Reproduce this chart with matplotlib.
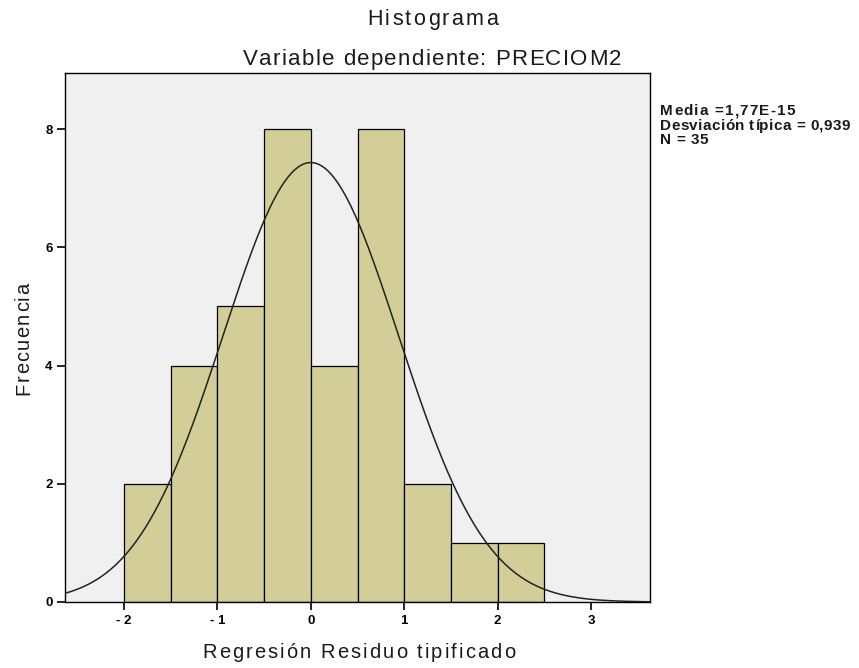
import matplotlib
matplotlib.use("Agg")
import matplotlib.pyplot as plt
from matplotlib.font_manager import FontProperties, findfont
from matplotlib.ft2font import FT2Font
import numpy as np

plt.rcParams['font.family'] = ['Liberation Sans', 'DejaVu Sans']

# datos del histograma (residuos tipificados)
bordes = [-2.0, -1.5, -1.0, -0.5, 0.0, 0.5, 1.0, 1.5, 2.0, 2.5]
frecuencias = [2, 4, 5, 8, 4, 8, 2, 1, 1]
media = 1.77e-15
desviacion = 0.939
n = 35
xticks = [-2, -1, 0, 1, 2, 3]
xtick_labels = ["- 2", "- 1", "0", "1", "2", "3"]
yticks = [0, 2, 4, 6, 8]

W, H = 859, 668
fig = plt.figure(figsize=(W/100, H/100), dpi=100)
ax = fig.add_axes([65/W, 66/H, 585/W, 529/H])
ax.set_facecolor('#F0F0F0')

anchos = np.diff(bordes)
ax.bar(bordes[:-1], frecuencias, width=anchos, align='edge',
       color='#D3CE98', edgecolor='black', linewidth=0.9, zorder=2)

# curva normal
x = np.linspace(-2.63, 3.63, 400)
ancho = anchos[0]
y = n * ancho / (desviacion * np.sqrt(2*np.pi)) * np.exp(-0.5*((x-media)/desviacion)**2)
ax.plot(x, y, color='#222222', linewidth=1.1, zorder=3)

ax.set_xlim(-2.63, 3.63)
ax.set_ylim(0, 8.95)
ax.set_xticks(xticks)
ax.set_xticklabels(xtick_labels)
ax.set_yticks(yticks)
for lab in ax.get_xticklabels() + ax.get_yticklabels():
    lab.set_fontweight('bold')
    lab.set_fontsize(9.5)
ax.tick_params(direction='out', length=6, width=1.2, colors='black', pad=3)
for s in ax.spines.values():
    s.set_linewidth(1.0)


def texto_espaciado(s, x0, base, size, largo, rot=0, weight='normal', color='#1a1a1a'):
    # texto con espaciado entre letras (x0 = inicio, base = linea base, en pixeles desde arriba)
    prop = FontProperties(family='Liberation Sans', size=size, weight=weight)
    font = FT2Font(findfont(prop))
    font.set_size(size, 100)
    avances = [font.load_char(ord(ch)).linearHoriAdvance / 65536 for ch in s]
    track = (largo - sum(avances)) / (len(s) - 1)
    d = 0
    for ch, a in zip(s, avances):
        if ch != " ":
            if rot == 0:
                px, py = x0 + d, base
            else:
                px, py = base, x0 - d
            fig.text(px/W, 1 - py/H, ch, ha='left', va='baseline', rotation=rot,
                     rotation_mode='anchor', fontproperties=prop, color=color)
        d += a + track


texto_espaciado("Histograma", 367, 25, 15.5, 131)
texto_espaciado("Variable dependiente: PRECIOM2", 243, 65, 16, 378)
texto_espaciado("Regresión Residuo tipificado", 202, 658, 14.5, 313)
texto_espaciado("Frecuencia", 395, 29, 14.5, 112, rot=90)

# leyenda de estadisticos
texto_espaciado("Media =1,77E-15", 660, 115, 11, 135, weight='bold')
texto_espaciado("Desviación típica = 0,939", 660, 130, 11, 190, weight='bold')
texto_espaciado("N = 35", 660, 144, 11, 48, weight='bold')

fig.savefig("out.png", dpi=100)
